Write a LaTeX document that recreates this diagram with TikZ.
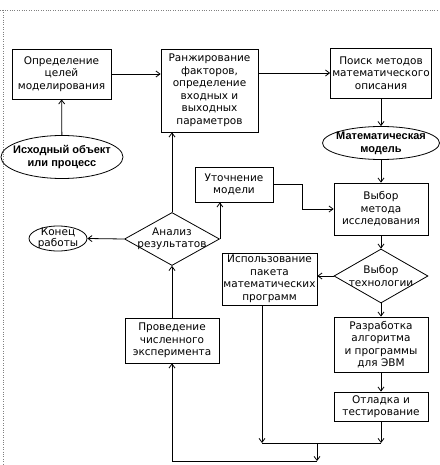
\documentclass[tikz,border=0pt]{standalone}
\usepackage{fontspec}
\setmainfont{DejaVu Sans}
\newfontfamily\ovalfont{Liberation Sans}
\usetikzlibrary{shapes.geometric,arrows.meta}
\begin{document}
\begin{tikzpicture}[>={Straight Barb[length=4pt,width=6pt]},x=1pt,y=-1pt,line width=.8pt,
 box/.style={draw,align=center,inner sep=1pt,font=\fontsize{10.5}{12.5}\selectfont},
 oval/.style={draw,ellipse,align=center,inner xsep=-8pt,inner ysep=0pt,font=\ovalfont\fontsize{11}{13}\selectfont\bfseries},
 smalloval/.style={draw,ellipse,align=center,inner xsep=-4pt,inner ysep=-3pt,font=\fontsize{10.5}{11}\selectfont},
 rhomb/.style={draw,diamond,aspect=1.8,align=center,inner xsep=-4pt,inner ysep=-2pt,font=\fontsize{10.5}{12.5}\selectfont}]
\useasboundingbox (0,0) rectangle (439,465);
\draw[gray,dotted,thin] (0,10)--(439,10);
\draw[gray,dotted,thin] (3,10)--(3,465);
\node[box,minimum width=99pt,minimum height=50pt] (goal) at (61.5,74) {Определение\\целей\\моделирования};
\node[box,minimum width=97pt,minimum height=83pt] (rank) at (209.5,90.5) {Ранжирование\\факторов,\\определение\\входных и\\выходных\\параметров};
\node[box,minimum width=101pt,minimum height=50pt] (search) at (381,73) {Поиск методов\\математического\\описания};
\node[oval,minimum width=122pt,minimum height=43pt] (obj) at (62,157) {Исходный объект\\или процесс};
\node[oval,minimum width=117pt,minimum height=33pt] (mmod) at (381,143) {Математическая\\модель};
\node[box,minimum width=78pt,minimum height=35pt] (refine) at (234,184.5) {Уточнение\\модели};
\node[box,minimum width=94pt,minimum height=52pt] (method) at (381,209) {Выбор\\метода\\исследования};
\node[rhomb,minimum width=95pt,minimum height=53pt] (anal) at (172,239) {Анализ\\результатов};
\node[smalloval,minimum width=58pt,minimum height=25pt] (fin) at (58,238.5) {Конец\\работы};
\node[rhomb,minimum width=94pt,minimum height=54pt] (tech) at (381,276) {Выбор\\технологии};
\node[box,minimum width=95pt,minimum height=52pt] (pack) at (269.5,279) {Использование\\пакета\\математических\\программ};
\node[box,minimum width=94pt,minimum height=55pt] (algo) at (381,344.5) {Разработка\\алгоритма\\и программы\\для ЭВМ};
\node[box,minimum width=94pt,minimum height=29pt] (debug) at (381,406.5) {Отладка и\\тестирование};
\node[box,minimum width=94pt,minimum height=45pt] (exp) at (172,340.5) {Проведение\\численного\\эксперимента};
\coordinate (jL) at (262,443);
\coordinate (jM) at (317,443);
\coordinate (jB) at (317,461);
\draw[->] (obj)--(goal);
\draw[->] (goal.east)--(goal.east -| rank.west);
\draw[->] (search.west -| rank.east)--(search.west);
\draw[->] (search)--(mmod);
\draw[->] (mmod)--(method);
\draw[->] (refine.east)--++(29,0)|-(method.west);
\draw[->] (method)--(tech);
\draw[->] (tech.west)--(tech.west -| pack.east);
\draw[->] (tech)--(algo);
\draw[->] (algo)--(debug);
\draw[->] (anal.north)--(anal.north |- rank.south);
\draw[->] (anal.west)--(fin.east);
\draw[->] (anal.east)--(anal.east |- refine.south);
\draw[->] (exp)--(anal);
\draw[->] (pack.south -| jL)--(jL);
\draw[->] (debug.south)--(debug.south |- jL);
\draw (jL)--(debug.south |- jL);
\draw[->] (jM)--(jB);
\draw[->] (jB)-|(exp.south);
\end{tikzpicture}
\end{document}
